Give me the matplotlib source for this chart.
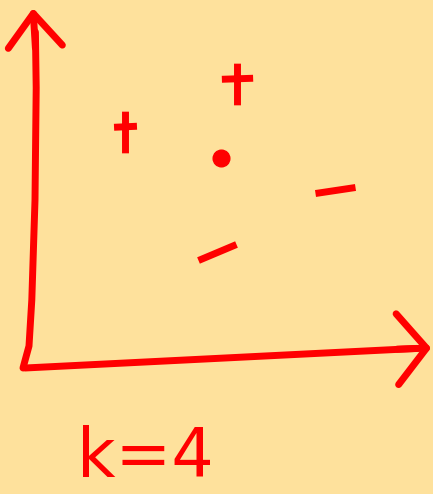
import matplotlib.pyplot as plt
from matplotlib.markers import MarkerStyle
from matplotlib.path import Path
from matplotlib.transforms import Affine2D

# class examples around the query point
plus_x = [2.5, 5.3]
plus_y = [5.9, 7.1]
minus_x = [7.75, 4.8]
minus_y = [4.45, 2.9]
minus_tilt = [9, 22]
query_x, query_y = 4.9, 5.25
label = "k=4"

red = "#ff0000"
paper = "#fee19c"

fig = plt.figure(figsize=(4.33, 4.94), dpi=100, facecolor=paper)
ax = fig.add_axes([0, 0, 1, 1])
ax.set_facecolor(paper)
ax.set_xlim(-0.625, 10.2)
ax.set_ylim(-3.15, 9.2)
ax.axis("off")

lw = 5
# hand drawn axes
ax.plot([-0.05, 0.1, 0.17, 0.25, 0.28, 0.26], [0.0, 0.55, 1.7, 4.2, 7.0, 8.4],
        color=red, lw=lw, solid_capstyle="round", solid_joinstyle="round")
ax.plot([0.0, 9.8], [0.0, 0.49], color=red, lw=lw, solid_capstyle="round")
arrow = dict(arrowstyle="->,head_length=0.8,head_width=0.65", color=red,
             lw=lw, capstyle="round", joinstyle="round", mutation_scale=30,
             shrinkA=0, shrinkB=0)
ax.annotate("", xy=(0.2, 9.0), xytext=(0.26, 8.0), arrowprops=arrow)
arrow["arrowstyle"] = "->,head_length=0.7,head_width=0.85"
ax.annotate("", xy=(10.15, 0.5), xytext=(9.3, 0.47), arrowprops=arrow)

# plus sign: tall stem, bar a bit above the middle
for x, y, half in zip(plus_x, plus_y, [0.55, 0.75]):
    plus = Path([(0, -1), (0, 1), (-half, 0.25), (half, 0.3)],
                [Path.MOVETO, Path.LINETO, Path.MOVETO, Path.LINETO])
    ax.plot(x, y, ls="none", marker=MarkerStyle(plus), ms=30, mew=lw,
            color=red)
for x, y, a in zip(minus_x, minus_y, minus_tilt):
    m = MarkerStyle("_", transform=Affine2D().rotate_deg(a))
    ax.plot(x, y, ls="none", marker=m, ms=29, mew=lw, color=red)
ax.plot(query_x, query_y, "o", ms=12, color=red)

ax.text(3.0, -2.25, label, color=red, fontsize=48, ha="center", va="center")

fig.savefig("out.png", dpi=100, facecolor=paper)
